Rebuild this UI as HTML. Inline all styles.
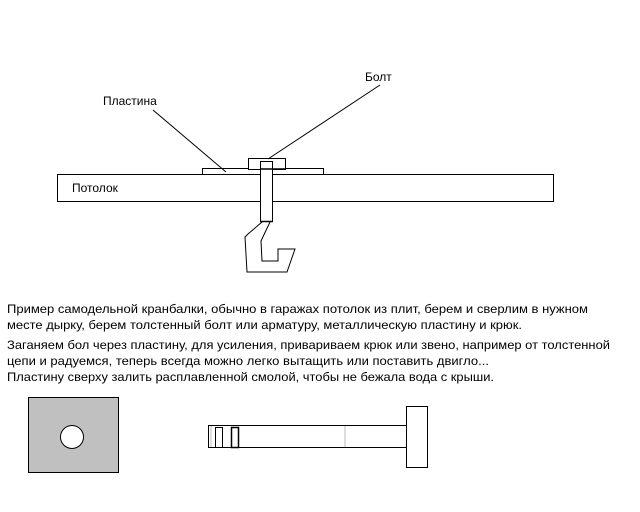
<!DOCTYPE html>
<html><head><meta charset="utf-8"><style>body{margin:0;background:#fff}svg{display:block}</style></head>
<body>
<svg width="640" height="512" xmlns="http://www.w3.org/2000/svg" font-family="Liberation Sans, sans-serif" font-size="12" fill="#000">
<g fill="none" stroke="#000" stroke-width="1">
<rect x="57.5" y="174.5" width="496" height="27"/>
<rect x="202.5" y="168.5" width="121" height="6" fill="#fff"/>
<rect x="248.5" y="158.5" width="37" height="11" fill="#fff"/>
<rect x="260.5" y="161.5" width="12" height="60" fill="#fff"/>
<line x1="153" y1="110" x2="226" y2="172"/>
<line x1="380" y1="85" x2="268" y2="159"/>
<polyline points="262,222 248,234 245,237 247,272 287,272 295,249 278,249 278,261 262,261 261,241 270,222"/>
<rect x="28.5" y="397.5" width="90" height="75" fill="#c0c0c0"/>
<circle cx="72" cy="437" r="11.5" fill="#fff"/>
<rect x="208.5" y="425.5" width="198" height="22"/>
<line x1="345" y1="426" x2="345" y2="447" stroke="#bbb"/>
<line x1="211" y1="426" x2="211" y2="447" stroke="#bbb"/>
<rect x="215.5" y="427.5" width="7" height="20"/>
<rect x="231.5" y="427.5" width="7" height="20" stroke-width="1.5"/>
<rect x="406.5" y="406.5" width="21" height="61" fill="#fff"/>
</g>
<line x1="260" y1="169" x2="285" y2="169" stroke="#000" stroke-width="1.5"/>
<line x1="260" y1="221.5" x2="273" y2="221.5" stroke="#000" stroke-width="1.5"/>
<text x="103" y="105">Пластина</text>
<text x="365" y="81">Болт</text>
<text x="72" y="192">Потолок</text>
<text x="7" y="313" textLength="581" lengthAdjust="spacingAndGlyphs">Пример самодельной кранбалки, обычно в гаражах потолок из плит, берем и сверлим в нужном</text>
<text x="7" y="329" textLength="515" lengthAdjust="spacingAndGlyphs">месте дырку, берем толстенный болт или арматуру, металлическую пластину и крюк.</text>
<text x="7" y="349" textLength="603" lengthAdjust="spacingAndGlyphs">Заганяем бол через пластину, для усиления, привариваем крюк или звено, например от толстенной</text>
<text x="7" y="365" textLength="482" lengthAdjust="spacingAndGlyphs">цепи и радуемся, теперь всегда можно легко вытащить или поставить двигло...</text>
<text x="7" y="381" textLength="487" lengthAdjust="spacingAndGlyphs">Пластину сверху залить расплавленной смолой, чтобы не бежала вода с крыши.</text>
</svg>
</body></html>
